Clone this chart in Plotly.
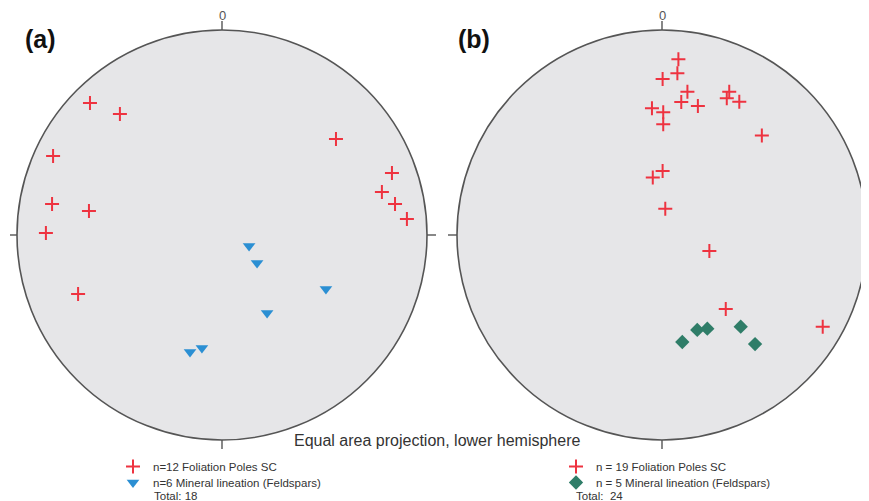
import plotly.graph_objects as go

# the page adds an 8px body margin; lay out in page pixels and shift by it
OFF = 8
PW, PH = 869, 501
W, H = PW - OFF, PH - OFF
R = 205.0  # pixels per unit radius

# ---- data: projected positions inside the unit net (x east, y north) ----
a_fol_x = [-0.644, -0.498, -0.824, -0.829, -0.649, -0.859, 0.556, 0.829, 0.780, 0.844, 0.902, -0.702]
a_fol_y = [0.644, 0.590, 0.385, 0.151, 0.117, 0.010, 0.468, 0.302, 0.210, 0.151, 0.078, -0.288]
a_lin_x = [0.132, 0.171, 0.507, 0.220, -0.156, -0.098]
a_lin_y = [-0.054, -0.137, -0.263, -0.380, -0.571, -0.551]

b_fol_x = [0.080, 0.075, 0.003, 0.124, 0.094, 0.175, -0.049, 0.006, 0.006, 0.328,
           0.316, 0.377, 0.487, 0.003, -0.045, 0.016, 0.231, 0.311, 0.784]
b_fol_y = [0.857, 0.789, 0.761, 0.699, 0.649, 0.629, 0.618, 0.599, 0.540, 0.699,
           0.667, 0.650, 0.485, 0.312, 0.281, 0.128, -0.078, -0.361, -0.447]
b_lin_x = [0.099, 0.172, 0.221, 0.384, 0.454]
b_lin_y = [-0.522, -0.463, -0.457, -0.447, -0.532]

a_labels = ["n=12 Foliation Poles SC", "n=6 Mineral lineation (Feldspars)", "Total: 18"]
b_labels = ["n = 19 Foliation Poles SC", "n = 5 Mineral lineation (Feldspars)", "Total:  24"]
title_text = "Equal area projection, lower hemisphere"

RED = "#ee3340"
BLUE = "#2b8fd3"
GREEN = "#2f7d68"
FILL = "#e6e6e8"
EDGE = "#555555"
FONT = "Liberation Sans, Arial, sans-serif"

# net centres in page pixels
cxa, cxb, cy = 222, 662, 235


def fx(px):
    return (px - OFF) / W


def fy(py):
    return 1 - (py - OFF) / H


def xdom(px0, px1, cx):
    return [fx(px0), fx(px1)], [(px0 - cx) / R, (px1 - cx) / R]


def ydom(py0, py1):
    return [fy(py1), fy(py0)], [(cy - py1) / R, (cy - py0) / R]


xa_dom, xa_rng = xdom(10, 440, cxa)
xb_dom, xb_rng = xdom(443, 869, cxb)
y_dom, y_rng = ydom(12, 460)

fig = go.Figure()

cross = dict(symbol="cross-thin", size=10, color=RED, line=dict(width=2, color=RED))
fig.add_trace(go.Scatter(x=a_fol_x, y=a_fol_y, mode="markers", xaxis="x", yaxis="y",
                         name=a_labels[0], legend="legend", marker=cross))
fig.add_trace(go.Scatter(x=a_lin_x, y=a_lin_y, mode="markers", xaxis="x", yaxis="y",
                         name=a_labels[1], legend="legend3",
                         marker=dict(symbol="triangle-down", size=11, color=BLUE, line=dict(width=0))))
fig.add_trace(go.Scatter(x=b_fol_x, y=b_fol_y, mode="markers", xaxis="x2", yaxis="y2",
                         name=b_labels[0], legend="legend2", marker=cross))
fig.add_trace(go.Scatter(x=b_lin_x, y=b_lin_y, mode="markers", xaxis="x2", yaxis="y2",
                         name=b_labels[1], legend="legend4",
                         marker=dict(symbol="diamond", size=11, color=GREEN, line=dict(width=0))))

shapes = []
for xr, yr in (("x", "y"), ("x2", "y2")):
    shapes.append(dict(type="circle", xref=xr, yref=yr, x0=-1, y0=-1, x1=1, y1=1,
                       fillcolor=FILL, line=dict(color=EDGE, width=1.6), layer="below"))
    t = 9 / R
    for (x0, y0, x1, y1) in ((0, 1, 0, 1 + t), (0, -1, 0, -1 - t), (-1, 0, -1 - t, 0), (1, 0, 1 + t, 0)):
        shapes.append(dict(type="line", xref=xr, yref=yr, x0=x0, y0=y0, x1=x1, y1=y1,
                           line=dict(color=EDGE, width=1.4)))

ax = dict(visible=False, showgrid=False, zeroline=False, fixedrange=True)
ann = []


def pann(text, px, py, size, bold=False, color="#333333", xanchor="left", yanchor="middle"):
    ann.append(dict(text=("<b>%s</b>" % text) if bold else text, xref="paper", yref="paper",
                    x=fx(px), y=fy(py), showarrow=False, xanchor=xanchor, yanchor=yanchor,
                    font=dict(size=size, color=color, family=FONT)))


pann("(a)", 23, 39, 25, bold=True, color="#111111")
pann("(b)", 456, 39, 25, bold=True, color="#111111")
pann("0", cxa, 15, 13, color="#555555", xanchor="center")
pann("0", cxb, 15, 13, color="#555555", xanchor="center")
pann(title_text, 437, 440, 16, color="#333333", xanchor="center")
pann(a_labels[2], 152, 496, 11.5)
pann(b_labels[2], 574, 496, 11.5)

leg_common = dict(font=dict(size=11.5, color="#333333", family=FONT), bgcolor="rgba(0,0,0,0)",
                  borderwidth=0, itemwidth=30, tracegroupgap=0, xanchor="left", yanchor="top",
                  itemclick=False, itemdoubleclick=False)

row1_top, row2_top = 452, 468
fig.update_layout(
    width=W, height=H, autosize=False,
    margin=dict(l=0, r=0, t=0, b=0),
    paper_bgcolor="white", plot_bgcolor="white",
    showlegend=True,
    xaxis=dict(domain=xa_dom, range=xa_rng, anchor="y", **ax),
    yaxis=dict(domain=y_dom, range=y_rng, anchor="x", **ax),
    xaxis2=dict(domain=xb_dom, range=xb_rng, anchor="y2", **ax),
    yaxis2=dict(domain=y_dom, range=y_rng, anchor="x2", **ax),
    shapes=shapes,
    annotations=ann,
    legend=dict(x=fx(113), y=fy(row1_top), **leg_common),
    legend3=dict(x=fx(113), y=fy(row2_top), **leg_common),
    legend2=dict(x=fx(556), y=fy(row1_top), **leg_common),
    legend4=dict(x=fx(556), y=fy(row2_top), **leg_common),
)

fig.write_html("out.html")
